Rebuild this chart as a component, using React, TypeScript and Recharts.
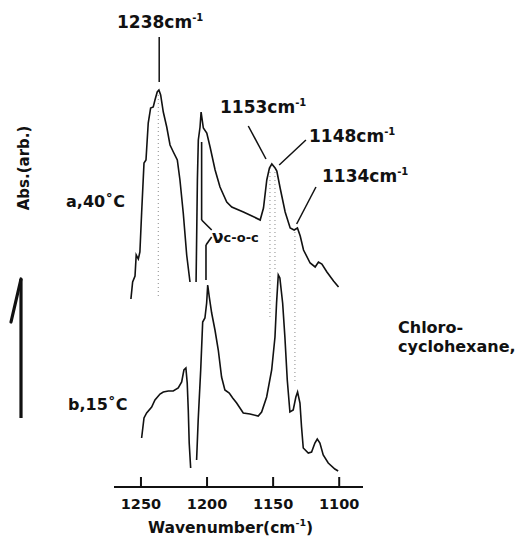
import { LineChart, Line, XAxis, YAxis, ReferenceLine } from "recharts";

// curve a, 40 C (upper trace)
const waveA = [
  1257.6, 1256.3, 1254.5, 1253.6, 1252.0, 1250.8, 1249.5, 1247.7, 1246.2, 1244.5,
  1242.7, 1240.7, 1239.4, 1237.7, 1236.4, 1235.1, 1233.1, 1230.5, 1228.0, 1225.5,
  1222.5, 1220.5, 1218.0, 1215.4, 1212.9, 1210.6, 1208.3, 1207.3, 1206.6, 1205.3,
  1204.5, 1202.8, 1200.2, 1197.7, 1193.9, 1190.2, 1185.1, 1181.3, 1172.5, 1166.0,
  1159.8, 1157.3, 1154.8, 1152.8, 1151.0, 1148.5, 1147.2, 1144.7, 1140.9, 1137.1,
  1134.1, 1131.6, 1129.5, 1127.0, 1122.0, 1118.2, 1115.7, 1113.1, 1109.3, 1104.3,
  1100.5,
];
const absA = [
  1.88, 2.05, 2.11, 2.32, 2.28, 2.35, 2.74, 3.24, 3.27, 3.64,
  3.79, 3.8, 3.87, 3.95, 3.97, 3.92, 3.75, 3.6, 3.42, 3.35,
  3.27, 3.07, 2.74, 2.32, 2.05, null, 2.05, 3.07, 3.47, 3.6,
  3.75, 3.59, 3.54, 3.4, 3.17, 3.0, 2.85, 2.8, 2.75, 2.71,
  2.67, 2.79, 3.07, 3.19, 3.23, 3.19, 3.16, 2.99, 2.75, 2.59,
  2.57, 2.59, 2.51, 2.37, 2.24, 2.2, 2.25, 2.23, 2.15, 2.06,
  2.0,
];

// curve b, 15 C (lower trace)
const waveB = [
  1249.5, 1247.7, 1245.7, 1241.9, 1239.4, 1235.6, 1233.1, 1229.3, 1225.6, 1221.8,
  1219.2, 1217.5, 1216.0, 1215.0, 1214.2, 1213.5, 1212.4, 1210.2, 1207.9, 1206.7,
  1204.8, 1203.3, 1201.6, 1200.3, 1199.5, 1198.3, 1196.5, 1194.0, 1191.5, 1189.0,
  1186.5, 1183.2, 1180.6, 1177.6, 1172.6, 1167.5, 1161.3, 1158.7, 1154.9, 1151.1,
  1148.6, 1147.4, 1146.1, 1144.9, 1142.8, 1141.1, 1139.3, 1137.3, 1134.8, 1132.8,
  1131.5, 1129.7, 1128.5, 1127.2, 1123.4, 1120.9, 1118.4, 1116.6, 1114.6, 1112.1,
  1108.3, 1103.3, 1100.8,
];
const absB = [
  0.49, 0.69, 0.74, 0.8, 0.87, 0.93, 0.95, 0.96, 0.96, 0.99,
  1.05, 1.17, 1.19, 1.04, 0.77, 0.44, 0.19, null, 0.27, 0.67,
  1.17, 1.65, 1.69, 1.84, 2.02, 1.9, 1.74, 1.57, 1.37, 1.1,
  0.97, 0.94, 0.89, 0.84, 0.74, 0.73, 0.71, 0.75, 0.9, 1.17,
  1.5, 1.84, 2.12, 2.09, 1.84, 1.5, 1.07, 0.75, 0.77, 0.9,
  0.95, 0.84, 0.6, 0.39, 0.34, 0.35, 0.44, 0.48, 0.44, 0.32,
  0.24, 0.18, 0.16,
];

const xTicks = [1250, 1200, 1150, 1100];

// dotted guides: wavenumber, top abs, bottom abs
const guideWave = [1236.9, 1152.4, 1148.6, 1133.5];
const guideTop = [3.92, 3.19, 3.15, 2.55];
const guideBottom = [1.89, 1.69, 2.15, 1.04];

// leader lines from the peak labels: [x1, y1, x2, y2]
const leaders = [
  [1236.2, 4.5, 1236.2, 4.05],
  [1168.8, 3.61, 1155.4, 3.28],
  [1145.4, 3.22, 1125.2, 3.47],
  [1132.2, 2.63, 1117.6, 3.0],
];

// bracket pointing at the v C-O-C bands
const bracket = [
  [1204.1, 3.45, 1204.1, 2.67],
  [1204.1, 2.67, 1196.5, 2.57],
  [1196.5, 2.5, 1200.8, 2.42],
  [1200.8, 2.42, 1200.8, 2.07],
];

const peakLabels = ["1238", "1153", "1148", "1134"];
const peakLabelPos = [
  [117, 28],
  [220, 113],
  [309, 142],
  [322, 182],
];

const specA = waveA.map((w, i) => ({ w, abs: absA[i] }));
const specB = waveB.map((w, i) => ({ w, abs: absB[i] }));

const font = "'DejaVu Sans', sans-serif";
const ink = "#111";

const WaveTick = (props: any) => {
  const { x, y, payload } = props;
  return (
    <g>
      <line x1={x} y1={y - 10} x2={x} y2={y} stroke={ink} strokeWidth={2} />
      <text
        x={x}
        y={y + 22}
        textAnchor="middle"
        fontFamily={font}
        fontWeight="bold"
        fontSize={14.5}
        fill={ink}
      >
        {payload.value}
      </text>
    </g>
  );
};

export default function App() {
  return (
    <div style={{ position: "absolute", left: 0, top: 0, width: 521, height: 541 }}>
      <LineChart
        width={521}
        height={541}
        margin={{ top: 7, right: 158, left: 114, bottom: 14 }}
      >
        <XAxis
          type="number"
          dataKey="w"
          domain={[1082, 1270.4]}
          reversed
          allowDataOverflow
          ticks={xTicks}
          tick={<WaveTick />}
          tickLine={false}
          tickSize={0}
          tickMargin={0}
          height={40}
          axisLine={{ stroke: ink, strokeWidth: 2 }}
        />
        <YAxis type="number" hide domain={[0, 4.8]} allowDataOverflow />

        {guideWave.map((w, i) => (
          <ReferenceLine
            key={"g" + i}
            segment={[
              { x: w, y: guideTop[i] },
              { x: w, y: guideBottom[i] },
            ]}
            stroke="#8a8a8a"
            strokeWidth={1}
            strokeDasharray="1 3"
            ifOverflow="visible"
          />
        ))}
        {leaders.map((s, i) => (
          <ReferenceLine
            key={"l" + i}
            segment={[
              { x: s[0], y: s[1] },
              { x: s[2], y: s[3] },
            ]}
            stroke={ink}
            strokeWidth={1.5}
            ifOverflow="visible"
          />
        ))}
        {bracket.map((s, i) => (
          <ReferenceLine
            key={"b" + i}
            segment={[
              { x: s[0], y: s[1] },
              { x: s[2], y: s[3] },
            ]}
            stroke={ink}
            strokeWidth={1.6}
            ifOverflow="visible"
          />
        ))}

        <Line
          data={specA}
          dataKey="abs"
          type="linear"
          stroke={ink}
          strokeWidth={1.6}
          dot={false}
          connectNulls={false}
          isAnimationActive={false}
        />
        <Line
          data={specB}
          dataKey="abs"
          type="linear"
          stroke={ink}
          strokeWidth={1.6}
          dot={false}
          connectNulls={false}
          isAnimationActive={false}
        />
      </LineChart>

      <svg
        width={521}
        height={541}
        style={{ position: "absolute", left: 0, top: 0, pointerEvents: "none" }}
        fontFamily={font}
        fontWeight="bold"
        fill={ink}
      >
        {peakLabels.map((p, i) => (
          <text key={p} x={peakLabelPos[i][0]} y={peakLabelPos[i][1]} fontSize={17}>
            {p}cm
            <tspan fontSize={10} dy={-7}>
              -1
            </tspan>
          </text>
        ))}
        <text x={212} y={243} fontSize={17}>
          ν
          <tspan fontSize={13} dy={-1}>
            c-o-c
          </tspan>
        </text>
        <text x={66} y={207} fontSize={16}>
          a,40˚C
        </text>
        <text x={68} y={410} fontSize={16}>
          b,15˚C
        </text>
        <text x={398} y={333} fontSize={16}>
          Chloro-
        </text>
        <text x={398} y={352} fontSize={16}>
          cyclohexane,
        </text>
        <text
          x={29}
          y={168}
          fontSize={15}
          textAnchor="middle"
          transform="rotate(-90 29 168)"
        >
          Abs.(arb.)
        </text>
        <line x1={21} y1={418} x2={21} y2={279} stroke={ink} strokeWidth={3.2} />
        <line
          x1={21}
          y1={279}
          x2={11}
          y2={322}
          stroke={ink}
          strokeWidth={3.2}
          strokeLinecap="round"
        />
        <text x={148} y={533} fontSize={15.5}>
          Wavenumber(cm
          <tspan fontSize={9.5} dy={-7}>
            -1
          </tspan>
          <tspan dy={7}>)</tspan>
        </text>
      </svg>
    </div>
  );
}
